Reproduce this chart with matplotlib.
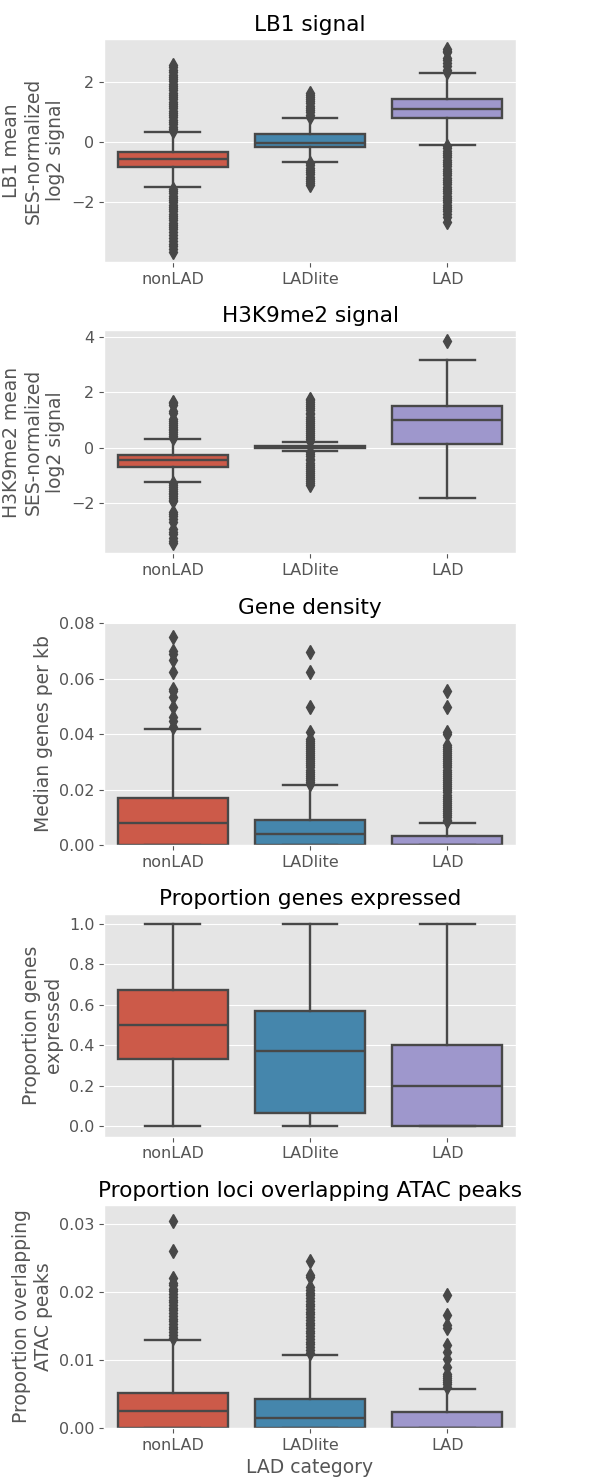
import colorsys

import matplotlib
matplotlib.use('Agg')
import matplotlib.pyplot as plt
import matplotlib.colors as mcolors

plt.style.use('ggplot')
plt.rcParams['font.family'] = ['DejaVu Sans']

categories = ['nonLAD', 'LADlite', 'LAD']

# LB1 mean SES-normalized log2 signal
lb1_med = [-0.56, -0.01, 1.11]
lb1_q1 = [-0.82, -0.15, 0.80]
lb1_q3 = [-0.33, 0.26, 1.43]
lb1_whislo = [-1.50, -0.66, -0.08]
lb1_whishi = [0.35, 0.81, 2.30]
lb1_fliers = [
    [0.38, 0.45, 0.52, 0.60, 0.68, 0.75, 0.83, 0.90, 0.98, 1.05, 1.13, 1.20,
     1.28, 1.35, 1.43, 1.50, 1.58, 1.65, 1.73, 1.80, 1.88, 1.95, 2.03, 2.10,
     2.18, 2.25, 2.33, 2.42, 2.50, 2.56,
     -1.55, -1.62, -1.70, -1.78, -1.85, -1.93, -2.00, -2.08, -2.15, -2.23,
     -2.30, -2.38, -2.45, -2.53, -2.60, -2.68, -2.75, -2.83, -2.90, -3.00,
     -3.10, -3.18, -3.30, -3.38, -3.45, -3.55, -3.65],
    [0.85, 0.92, 1.00, 1.08, 1.15, 1.22, 1.30, 1.38, 1.45, 1.52, 1.58, 1.63,
     -0.70, -0.77, -0.85, -0.92, -1.00, -1.07, -1.15, -1.22, -1.30, -1.36,
     -1.42],
    [2.35, 2.42, 2.55, 2.65, 2.75, 2.82, 3.00, 3.05, 3.10,
     -0.12, -0.20, -0.28, -0.35, -0.43, -0.50, -0.58, -0.65, -0.73, -0.80,
     -0.88, -0.95, -1.03, -1.10, -1.18, -1.25, -1.33, -1.40, -1.48, -1.55,
     -1.63, -1.70, -1.78, -1.85, -1.93, -2.00, -2.08, -2.15, -2.23, -2.30,
     -2.40, -2.50, -2.65],
]

# H3K9me2 mean SES-normalized log2 signal
h3_med = [-0.46, 0.03, 0.99]
h3_q1 = [-0.72, -0.01, 0.14]
h3_q3 = [-0.28, 0.07, 1.50]
h3_whislo = [-1.26, -0.13, -1.82]
h3_whishi = [0.30, 0.19, 3.17]
h3_fliers = [
    [0.36, 0.42, 0.48, 0.55, 0.62, 0.68, 0.75, 0.82, 0.90, 0.97, 1.05, 1.25,
     1.32, 1.55, 1.62, 1.66,
     -1.30, -1.37, -1.44, -1.50, -1.57, -1.64, -1.70, -1.77, -1.84, -1.90,
     -1.95, -2.35, -2.42, -2.50, -2.60, -2.70, -2.95, -3.05, -3.15, -3.30,
     -3.40, -3.48],
    [0.22, 0.30, 0.37, 0.45, 0.52, 0.60, 0.67, 0.75, 0.82, 0.90, 0.97, 1.05,
     1.12, 1.20, 1.27, 1.35, 1.42, 1.50, 1.57, 1.65, 1.72, 1.77,
     -0.17, -0.25, -0.32, -0.40, -0.47, -0.55, -0.62, -0.70, -0.77, -0.85,
     -0.92, -1.00, -1.07, -1.15, -1.22, -1.30, -1.36],
    [3.88],
]

# median genes per kb
gd_med = [0.0080, 0.0038, 0.0]
gd_q1 = [0.0, 0.0, 0.0]
gd_q3 = [0.0168, 0.0090, 0.0032]
gd_whislo = [0.0, 0.0, 0.0]
gd_whishi = [0.0418, 0.0218, 0.0080]
gd_fliers = [
    [0.0425, 0.0449, 0.0461, 0.0499, 0.0533, 0.0555, 0.0563, 0.0623, 0.0667,
     0.0689, 0.0700, 0.0751],
    [0.0222, 0.0228, 0.0235, 0.0242, 0.0250, 0.0257, 0.0265, 0.0272, 0.0280,
     0.0287, 0.0295, 0.0302, 0.0310, 0.0317, 0.0325, 0.0332, 0.0340, 0.0347,
     0.0355, 0.0362, 0.0370, 0.0377, 0.0383, 0.0407, 0.0499, 0.0626, 0.0698],
    [0.0085, 0.0092, 0.0100, 0.0107, 0.0115, 0.0122, 0.0130, 0.0137, 0.0145,
     0.0152, 0.0160, 0.0167, 0.0175, 0.0182, 0.0190, 0.0197, 0.0205, 0.0212,
     0.0220, 0.0227, 0.0235, 0.0242, 0.0250, 0.0257, 0.0265, 0.0272, 0.0280,
     0.0287, 0.0295, 0.0302, 0.0310, 0.0317, 0.0325, 0.0332, 0.0340, 0.0347,
     0.0355, 0.0360, 0.0400, 0.0407, 0.0499, 0.0556],
]

# proportion of genes expressed
ge_med = [0.50, 0.374, 0.20]
ge_q1 = [0.332, 0.064, 0.0]
ge_q3 = [0.675, 0.570, 0.40]
ge_whislo = [0.0, 0.0, 0.0]
ge_whishi = [1.0, 1.0, 1.0]
ge_fliers = [[], [], []]

# proportion of loci overlapping ATAC peaks
at_med = [0.0025, 0.0015, 0.0]
at_q1 = [0.0, 0.0, 0.0]
at_q3 = [0.0052, 0.0043, 0.0024]
at_whislo = [0.0, 0.0, 0.0]
at_whishi = [0.0130, 0.0108, 0.0058]
at_fliers = [
    [0.0133, 0.0137, 0.0141, 0.0145, 0.0149, 0.0153, 0.0157, 0.0161, 0.0165,
     0.0169, 0.0173, 0.0177, 0.0181, 0.0185, 0.0189, 0.0193, 0.0197, 0.0201,
     0.0205, 0.0210, 0.0214, 0.0220, 0.0261, 0.0305],
    [0.0111, 0.0115, 0.0119, 0.0123, 0.0127, 0.0131, 0.0135, 0.0139, 0.0143,
     0.0147, 0.0151, 0.0155, 0.0159, 0.0163, 0.0167, 0.0171, 0.0175, 0.0179,
     0.0183, 0.0187, 0.0191, 0.0195, 0.0199, 0.0203, 0.0207, 0.0222, 0.0225,
     0.0246],
    [0.0061, 0.0064, 0.0067, 0.0070, 0.0073, 0.0076, 0.0080, 0.0090, 0.0102,
     0.0112, 0.0122, 0.0147, 0.0151, 0.0166, 0.0195],
]

at_ticks = [0.0, 0.01, 0.02, 0.03]

panels = [
    ('LB1 signal', 'LB1 mean\nSES-normalized\nlog2 signal',
     lb1_med, lb1_q1, lb1_q3, lb1_whislo, lb1_whishi, lb1_fliers, None, None),
    ('H3K9me2 signal', 'H3K9me2 mean\nSES-normalized\nlog2 signal',
     h3_med, h3_q1, h3_q3, h3_whislo, h3_whishi, h3_fliers, None, None),
    ('Gene density', 'Median genes per kb',
     gd_med, gd_q1, gd_q3, gd_whislo, gd_whishi, gd_fliers, (0, 0.0805), None),
    ('Proportion genes expressed', 'Proportion genes\nexpressed',
     ge_med, ge_q1, ge_q3, ge_whislo, ge_whishi, ge_fliers, None, None),
    ('Proportion loci overlapping ATAC peaks',
     'Proportion overlapping\nATAC peaks',
     at_med, at_q1, at_q3, at_whislo, at_whishi, at_fliers, (0, 0.0328),
     at_ticks),
]

base_colors = ['#E24A33', '#348ABD', '#988ED5']


def desaturate(c, prop=0.75):
    h, l, s = colorsys.rgb_to_hls(*mcolors.to_rgb(c))
    return colorsys.hls_to_rgb(h, l, s * prop)


box_colors = [desaturate(c) for c in base_colors]
gray = '#484848'
lw = 1.7

W, H = 597, 1483
fig = plt.figure(figsize=(W / 100, H / 100), dpi=100)

ax_left, ax_w, ax_h = 104, 412, 223
ax_tops = [39, 330.5, 622, 913.5, 1205]

for (title, ylabel, med, q1, q3, wlo, whi, fl, ylim, yticks), top in zip(panels, ax_tops):
    ax = fig.add_axes([ax_left / W, 1 - (top + ax_h) / H, ax_w / W, ax_h / H])
    stats = []
    for i in range(3):
        stats.append(dict(med=med[i], q1=q1[i], q3=q3[i],
                          whislo=wlo[i], whishi=whi[i], fliers=fl[i]))
    arts = ax.bxp(stats, positions=[0, 1, 2], widths=0.8, patch_artist=True,
                  boxprops=dict(edgecolor=gray, linewidth=lw),
                  whiskerprops=dict(color=gray, linewidth=lw),
                  capprops=dict(color=gray, linewidth=lw),
                  medianprops=dict(color=gray, linewidth=lw),
                  flierprops=dict(marker='d', markerfacecolor=gray,
                                  markeredgecolor=gray, markersize=7.5,
                                  linestyle='none'),
                  capwidths=0.4)
    for patch, col in zip(arts['boxes'], box_colors):
        patch.set_facecolor(col)
    ax.set_xlim(-0.5, 2.5)
    if ylim is not None:
        ax.set_ylim(*ylim)
    if yticks is not None:
        ax.set_yticks(yticks)
    ax.set_xticks([0, 1, 2])
    ax.set_xticklabels(categories)
    ax.grid(axis='x', visible=False)
    ax.tick_params(labelsize=11.5, colors='#555555')
    ax.set_title(title, fontsize=15.6, color='black')
    ax.set_ylabel(ylabel, fontsize=13.5, color='#555555')

ax.set_xlabel('LAD category', fontsize=13.5, color='#555555')

fig.savefig('out.png', dpi=100)
